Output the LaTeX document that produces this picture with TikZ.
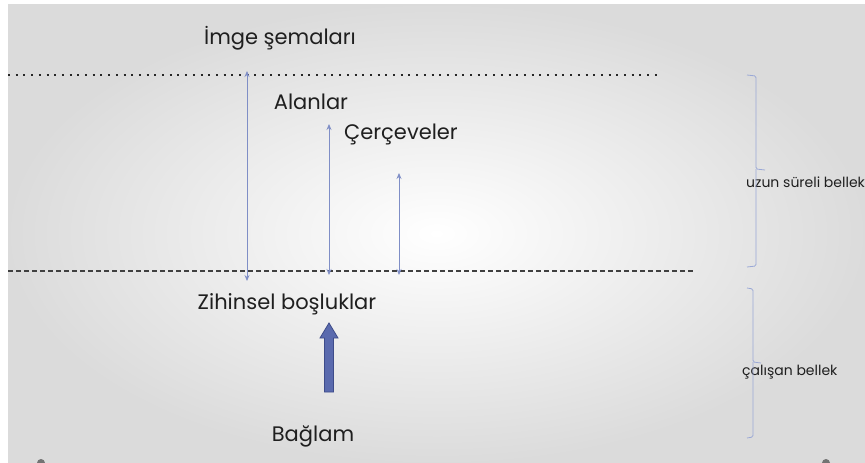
\documentclass[tikz,border=0pt]{standalone}
\usepackage{fontspec}
\setmainfont{Poppins}
\usetikzlibrary{calc,arrows.meta}
\definecolor{linkblue}{HTML}{7F8EC6}
\definecolor{bracecol}{HTML}{9AA8D6}
\definecolor{blockfill}{HTML}{5A6AAE}
\definecolor{blockedge}{HTML}{3E4C8A}

\begin{document}
\begin{tikzpicture}[x=1pt,y=-1pt,
  lbl/.style={font=\fontsize{21}{24}\selectfont,text=black!88,inner sep=0pt},
  side/.style={font=\fontsize{14}{16}\selectfont,text=black!88,inner sep=0pt,anchor=west},
  link/.style={linkblue,line width=0.8pt,{Stealth[length=6pt,width=5pt]}-{Stealth[length=6pt,width=5pt]}},
  brack/.style={bracecol,line width=0.8pt,rounded corners=1.5pt}]
 \useasboundingbox (0,0) rectangle (865,463);
 \fill[white] (0,0) rectangle (865,463);
 \shade[inner color=white,outer color=black!14] (8,4) rectangle (865,463);
 %
 \node[lbl] (imge) at (280,38) {İmge şemaları};
 \node[lbl] (alan) at (311,102) {Alanlar};
 \node[lbl] (cerc) at (401,134) {Çerçeveler};
 \node[lbl] (zihin) at (287,304) {Zihinsel boşluklar};
 \node[lbl] (baglam) at (313,436) {Bağlam};
 \node[side] (uzun) at (746,182) {uzun süreli bellek};
 \node[side] (calis) at (742,372) {çalışan bellek};
 %
 \coordinate (top1) at (8,75);
 \coordinate (top2) at (662,75);
 \coordinate (bot1) at (8,271);
 \coordinate (bot2) at (693,271);
 \draw[black!85,line width=2pt,dash pattern=on 2pt off 5.7pt] (top1) -- (top2);
 \draw[black!75,line width=1.8pt,dash pattern=on 5pt off 3pt] (bot1) -- (bot2);
 %
 \coordinate (a1t) at (247,71);
 \coordinate (a1b) at (247,281);
 \coordinate (a2t) at (329,124);
 \coordinate (a2b) at (329,275);
 \coordinate (a3t) at (399,173);
 \coordinate (a3b) at (399,275);
 \draw[link] (a1t) -- (a1b);
 \draw[link] (a2t) -- (a2b);
 \draw[link] (a3t) -- (a3b);
 %
 \coordinate (blk) at (329,392);
 \filldraw[fill=blockfill,draw=blockedge,line width=0.8pt]
   ($(blk)+(-4.5,0)$) -- ($(blk)+(-4.5,-54)$) -- ($(blk)+(-9,-54)$) -- ($(blk)+(0,-69)$)
   -- ($(blk)+(9,-54)$) -- ($(blk)+(4.5,-54)$) -- ($(blk)+(4.5,0)$) -- cycle;
 %
 \draw[brack] (747,75) -- (756,76) -- (756,169) -- (765,170)
   (756,169) -- (756,266) -- (747,267);
 \draw[brack] (747,288) -- (753,289) -- (753,362) -- (761,363)
   (753,362) -- (753,437) -- (747,438);
 %
 \fill[black!55] (41,463) circle (4);
 \fill[black!55] (826,463) circle (4);
\end{tikzpicture}
\end{document}
